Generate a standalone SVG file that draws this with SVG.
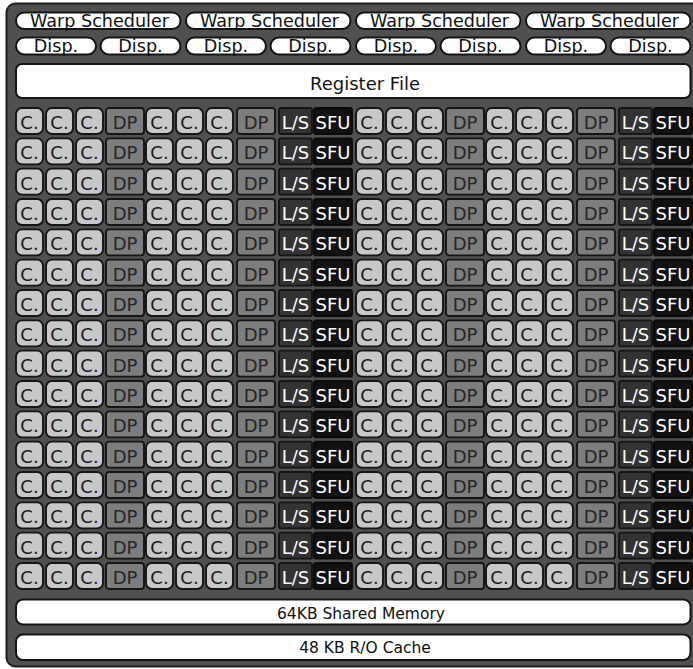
<svg xmlns="http://www.w3.org/2000/svg" width="693" height="669" viewBox="0 0 693 669">
<style>
text{font-family:"DejaVu Sans","Liberation Sans",sans-serif;text-anchor:middle}
.p{fill:#fff;stroke:#151515;stroke-width:2}
.pt{font-size:17.6px;fill:#111}
.c rect{fill:#c8c8c8;stroke:#151515;stroke-width:1.9}
.d rect{fill:#7d7d7d;stroke:#151515;stroke-width:1.9}
.l rect{fill:#333;stroke:#151515;stroke-width:1.9}
.s rect{fill:#111;stroke:#0a0a0a;stroke-width:1.9}
.c text,.d text,.l text,.s text{font-size:18px}
.c text{fill:#1a1a1a}
.d text{fill:#262626}
.l text,.s text{fill:#fff}
</style>
<g id="frame"><rect x="6.5" y="3.5" width="720" height="663" rx="9" fill="#505050" stroke="#1e1e1e" stroke-width="2"/></g>
<g id="warp1"><rect class="p" x="16" y="12.5" width="164.5" height="16.5" rx="8.2"/><text class="pt" x="99.5" y="26.5">Warp Scheduler</text></g>
<g id="warp2"><rect class="p" x="186" y="12.5" width="164.5" height="16.5" rx="8.2"/><text class="pt" x="269.5" y="26.5">Warp Scheduler</text></g>
<g id="warp3"><rect class="p" x="356" y="12.5" width="164.5" height="16.5" rx="8.2"/><text class="pt" x="439.5" y="26.5">Warp Scheduler</text></g>
<g id="warp4"><rect class="p" x="526" y="12.5" width="164.5" height="16.5" rx="8.2"/><text class="pt" x="609.5" y="26.5">Warp Scheduler</text></g>
<g id="disp1"><rect class="p" x="16" y="37.5" width="80" height="17" rx="8.5"/><text class="pt" x="56" y="52.3">Disp.</text></g>
<g id="disp2"><rect class="p" x="100.5" y="37.5" width="80" height="17" rx="8.5"/><text class="pt" x="140.5" y="52.3">Disp.</text></g>
<g id="disp3"><rect class="p" x="186" y="37.5" width="80" height="17" rx="8.5"/><text class="pt" x="226" y="52.3">Disp.</text></g>
<g id="disp4"><rect class="p" x="270.5" y="37.5" width="80" height="17" rx="8.5"/><text class="pt" x="310.5" y="52.3">Disp.</text></g>
<g id="disp5"><rect class="p" x="356" y="37.5" width="80" height="17" rx="8.5"/><text class="pt" x="396" y="52.3">Disp.</text></g>
<g id="disp6"><rect class="p" x="440.5" y="37.5" width="80" height="17" rx="8.5"/><text class="pt" x="480.5" y="52.3">Disp.</text></g>
<g id="disp7"><rect class="p" x="526" y="37.5" width="80" height="17" rx="8.5"/><text class="pt" x="566" y="52.3">Disp.</text></g>
<g id="disp8"><rect class="p" x="610.5" y="37.5" width="80" height="17" rx="8.5"/><text class="pt" x="650.5" y="52.3">Disp.</text></g>
<g id="regfile"><rect class="p" x="16" y="64" width="674.5" height="34" rx="6"/><text x="365" y="90" font-size="18" fill="#111">Register File</text></g>
<g id="row1" transform="translate(0 108)">
<g id="c1-1" class="c" transform="translate(16)"><rect width="27" height="26" rx="6"/><text x="13.5" y="21">C.</text></g>
<g id="c1-2" class="c" transform="translate(46)"><rect width="27" height="26" rx="6"/><text x="13.5" y="21">C.</text></g>
<g id="c1-3" class="c" transform="translate(76)"><rect width="27" height="26" rx="6"/><text x="13.5" y="21">C.</text></g>
<g id="c1-4" class="d" transform="translate(106)"><rect width="38" height="26" rx="3"/><text x="19" y="21">DP</text></g>
<g id="c1-5" class="c" transform="translate(146)"><rect width="27" height="26" rx="6"/><text x="13.5" y="21">C.</text></g>
<g id="c1-6" class="c" transform="translate(176)"><rect width="27" height="26" rx="6"/><text x="13.5" y="21">C.</text></g>
<g id="c1-7" class="c" transform="translate(206)"><rect width="27" height="26" rx="6"/><text x="13.5" y="21">C.</text></g>
<g id="c1-8" class="d" transform="translate(237)"><rect width="38" height="26" rx="3"/><text x="19" y="21">DP</text></g>
<g id="c1-9" class="l" transform="translate(279)"><rect width="33" height="26" rx="2"/><text x="16.5" y="21">L/S</text></g>
<g id="c1-10" class="s" transform="translate(314)"><rect width="38" height="26" rx="2"/><text x="19" y="21">SFU</text></g>
<g id="c1-11" class="c" transform="translate(356)"><rect width="27" height="26" rx="6"/><text x="13.5" y="21">C.</text></g>
<g id="c1-12" class="c" transform="translate(386)"><rect width="27" height="26" rx="6"/><text x="13.5" y="21">C.</text></g>
<g id="c1-13" class="c" transform="translate(416)"><rect width="27" height="26" rx="6"/><text x="13.5" y="21">C.</text></g>
<g id="c1-14" class="d" transform="translate(446)"><rect width="38" height="26" rx="3"/><text x="19" y="21">DP</text></g>
<g id="c1-15" class="c" transform="translate(486)"><rect width="27" height="26" rx="6"/><text x="13.5" y="21">C.</text></g>
<g id="c1-16" class="c" transform="translate(516)"><rect width="27" height="26" rx="6"/><text x="13.5" y="21">C.</text></g>
<g id="c1-17" class="c" transform="translate(546)"><rect width="27" height="26" rx="6"/><text x="13.5" y="21">C.</text></g>
<g id="c1-18" class="d" transform="translate(577)"><rect width="38" height="26" rx="3"/><text x="19" y="21">DP</text></g>
<g id="c1-19" class="l" transform="translate(619)"><rect width="33" height="26" rx="2"/><text x="16.5" y="21">L/S</text></g>
<g id="c1-20" class="s" transform="translate(654)"><rect width="38" height="26" rx="2"/><text x="19" y="21">SFU</text></g>
</g>
<g id="row2" transform="translate(0 138.33)">
<g id="c2-1" class="c" transform="translate(16)"><rect width="27" height="26" rx="6"/><text x="13.5" y="21">C.</text></g>
<g id="c2-2" class="c" transform="translate(46)"><rect width="27" height="26" rx="6"/><text x="13.5" y="21">C.</text></g>
<g id="c2-3" class="c" transform="translate(76)"><rect width="27" height="26" rx="6"/><text x="13.5" y="21">C.</text></g>
<g id="c2-4" class="d" transform="translate(106)"><rect width="38" height="26" rx="3"/><text x="19" y="21">DP</text></g>
<g id="c2-5" class="c" transform="translate(146)"><rect width="27" height="26" rx="6"/><text x="13.5" y="21">C.</text></g>
<g id="c2-6" class="c" transform="translate(176)"><rect width="27" height="26" rx="6"/><text x="13.5" y="21">C.</text></g>
<g id="c2-7" class="c" transform="translate(206)"><rect width="27" height="26" rx="6"/><text x="13.5" y="21">C.</text></g>
<g id="c2-8" class="d" transform="translate(237)"><rect width="38" height="26" rx="3"/><text x="19" y="21">DP</text></g>
<g id="c2-9" class="l" transform="translate(279)"><rect width="33" height="26" rx="2"/><text x="16.5" y="21">L/S</text></g>
<g id="c2-10" class="s" transform="translate(314)"><rect width="38" height="26" rx="2"/><text x="19" y="21">SFU</text></g>
<g id="c2-11" class="c" transform="translate(356)"><rect width="27" height="26" rx="6"/><text x="13.5" y="21">C.</text></g>
<g id="c2-12" class="c" transform="translate(386)"><rect width="27" height="26" rx="6"/><text x="13.5" y="21">C.</text></g>
<g id="c2-13" class="c" transform="translate(416)"><rect width="27" height="26" rx="6"/><text x="13.5" y="21">C.</text></g>
<g id="c2-14" class="d" transform="translate(446)"><rect width="38" height="26" rx="3"/><text x="19" y="21">DP</text></g>
<g id="c2-15" class="c" transform="translate(486)"><rect width="27" height="26" rx="6"/><text x="13.5" y="21">C.</text></g>
<g id="c2-16" class="c" transform="translate(516)"><rect width="27" height="26" rx="6"/><text x="13.5" y="21">C.</text></g>
<g id="c2-17" class="c" transform="translate(546)"><rect width="27" height="26" rx="6"/><text x="13.5" y="21">C.</text></g>
<g id="c2-18" class="d" transform="translate(577)"><rect width="38" height="26" rx="3"/><text x="19" y="21">DP</text></g>
<g id="c2-19" class="l" transform="translate(619)"><rect width="33" height="26" rx="2"/><text x="16.5" y="21">L/S</text></g>
<g id="c2-20" class="s" transform="translate(654)"><rect width="38" height="26" rx="2"/><text x="19" y="21">SFU</text></g>
</g>
<g id="row3" transform="translate(0 168.67)">
<g id="c3-1" class="c" transform="translate(16)"><rect width="27" height="26" rx="6"/><text x="13.5" y="21">C.</text></g>
<g id="c3-2" class="c" transform="translate(46)"><rect width="27" height="26" rx="6"/><text x="13.5" y="21">C.</text></g>
<g id="c3-3" class="c" transform="translate(76)"><rect width="27" height="26" rx="6"/><text x="13.5" y="21">C.</text></g>
<g id="c3-4" class="d" transform="translate(106)"><rect width="38" height="26" rx="3"/><text x="19" y="21">DP</text></g>
<g id="c3-5" class="c" transform="translate(146)"><rect width="27" height="26" rx="6"/><text x="13.5" y="21">C.</text></g>
<g id="c3-6" class="c" transform="translate(176)"><rect width="27" height="26" rx="6"/><text x="13.5" y="21">C.</text></g>
<g id="c3-7" class="c" transform="translate(206)"><rect width="27" height="26" rx="6"/><text x="13.5" y="21">C.</text></g>
<g id="c3-8" class="d" transform="translate(237)"><rect width="38" height="26" rx="3"/><text x="19" y="21">DP</text></g>
<g id="c3-9" class="l" transform="translate(279)"><rect width="33" height="26" rx="2"/><text x="16.5" y="21">L/S</text></g>
<g id="c3-10" class="s" transform="translate(314)"><rect width="38" height="26" rx="2"/><text x="19" y="21">SFU</text></g>
<g id="c3-11" class="c" transform="translate(356)"><rect width="27" height="26" rx="6"/><text x="13.5" y="21">C.</text></g>
<g id="c3-12" class="c" transform="translate(386)"><rect width="27" height="26" rx="6"/><text x="13.5" y="21">C.</text></g>
<g id="c3-13" class="c" transform="translate(416)"><rect width="27" height="26" rx="6"/><text x="13.5" y="21">C.</text></g>
<g id="c3-14" class="d" transform="translate(446)"><rect width="38" height="26" rx="3"/><text x="19" y="21">DP</text></g>
<g id="c3-15" class="c" transform="translate(486)"><rect width="27" height="26" rx="6"/><text x="13.5" y="21">C.</text></g>
<g id="c3-16" class="c" transform="translate(516)"><rect width="27" height="26" rx="6"/><text x="13.5" y="21">C.</text></g>
<g id="c3-17" class="c" transform="translate(546)"><rect width="27" height="26" rx="6"/><text x="13.5" y="21">C.</text></g>
<g id="c3-18" class="d" transform="translate(577)"><rect width="38" height="26" rx="3"/><text x="19" y="21">DP</text></g>
<g id="c3-19" class="l" transform="translate(619)"><rect width="33" height="26" rx="2"/><text x="16.5" y="21">L/S</text></g>
<g id="c3-20" class="s" transform="translate(654)"><rect width="38" height="26" rx="2"/><text x="19" y="21">SFU</text></g>
</g>
<g id="row4" transform="translate(0 199)">
<g id="c4-1" class="c" transform="translate(16)"><rect width="27" height="26" rx="6"/><text x="13.5" y="21">C.</text></g>
<g id="c4-2" class="c" transform="translate(46)"><rect width="27" height="26" rx="6"/><text x="13.5" y="21">C.</text></g>
<g id="c4-3" class="c" transform="translate(76)"><rect width="27" height="26" rx="6"/><text x="13.5" y="21">C.</text></g>
<g id="c4-4" class="d" transform="translate(106)"><rect width="38" height="26" rx="3"/><text x="19" y="21">DP</text></g>
<g id="c4-5" class="c" transform="translate(146)"><rect width="27" height="26" rx="6"/><text x="13.5" y="21">C.</text></g>
<g id="c4-6" class="c" transform="translate(176)"><rect width="27" height="26" rx="6"/><text x="13.5" y="21">C.</text></g>
<g id="c4-7" class="c" transform="translate(206)"><rect width="27" height="26" rx="6"/><text x="13.5" y="21">C.</text></g>
<g id="c4-8" class="d" transform="translate(237)"><rect width="38" height="26" rx="3"/><text x="19" y="21">DP</text></g>
<g id="c4-9" class="l" transform="translate(279)"><rect width="33" height="26" rx="2"/><text x="16.5" y="21">L/S</text></g>
<g id="c4-10" class="s" transform="translate(314)"><rect width="38" height="26" rx="2"/><text x="19" y="21">SFU</text></g>
<g id="c4-11" class="c" transform="translate(356)"><rect width="27" height="26" rx="6"/><text x="13.5" y="21">C.</text></g>
<g id="c4-12" class="c" transform="translate(386)"><rect width="27" height="26" rx="6"/><text x="13.5" y="21">C.</text></g>
<g id="c4-13" class="c" transform="translate(416)"><rect width="27" height="26" rx="6"/><text x="13.5" y="21">C.</text></g>
<g id="c4-14" class="d" transform="translate(446)"><rect width="38" height="26" rx="3"/><text x="19" y="21">DP</text></g>
<g id="c4-15" class="c" transform="translate(486)"><rect width="27" height="26" rx="6"/><text x="13.5" y="21">C.</text></g>
<g id="c4-16" class="c" transform="translate(516)"><rect width="27" height="26" rx="6"/><text x="13.5" y="21">C.</text></g>
<g id="c4-17" class="c" transform="translate(546)"><rect width="27" height="26" rx="6"/><text x="13.5" y="21">C.</text></g>
<g id="c4-18" class="d" transform="translate(577)"><rect width="38" height="26" rx="3"/><text x="19" y="21">DP</text></g>
<g id="c4-19" class="l" transform="translate(619)"><rect width="33" height="26" rx="2"/><text x="16.5" y="21">L/S</text></g>
<g id="c4-20" class="s" transform="translate(654)"><rect width="38" height="26" rx="2"/><text x="19" y="21">SFU</text></g>
</g>
<g id="row5" transform="translate(0 229.33)">
<g id="c5-1" class="c" transform="translate(16)"><rect width="27" height="26" rx="6"/><text x="13.5" y="21">C.</text></g>
<g id="c5-2" class="c" transform="translate(46)"><rect width="27" height="26" rx="6"/><text x="13.5" y="21">C.</text></g>
<g id="c5-3" class="c" transform="translate(76)"><rect width="27" height="26" rx="6"/><text x="13.5" y="21">C.</text></g>
<g id="c5-4" class="d" transform="translate(106)"><rect width="38" height="26" rx="3"/><text x="19" y="21">DP</text></g>
<g id="c5-5" class="c" transform="translate(146)"><rect width="27" height="26" rx="6"/><text x="13.5" y="21">C.</text></g>
<g id="c5-6" class="c" transform="translate(176)"><rect width="27" height="26" rx="6"/><text x="13.5" y="21">C.</text></g>
<g id="c5-7" class="c" transform="translate(206)"><rect width="27" height="26" rx="6"/><text x="13.5" y="21">C.</text></g>
<g id="c5-8" class="d" transform="translate(237)"><rect width="38" height="26" rx="3"/><text x="19" y="21">DP</text></g>
<g id="c5-9" class="l" transform="translate(279)"><rect width="33" height="26" rx="2"/><text x="16.5" y="21">L/S</text></g>
<g id="c5-10" class="s" transform="translate(314)"><rect width="38" height="26" rx="2"/><text x="19" y="21">SFU</text></g>
<g id="c5-11" class="c" transform="translate(356)"><rect width="27" height="26" rx="6"/><text x="13.5" y="21">C.</text></g>
<g id="c5-12" class="c" transform="translate(386)"><rect width="27" height="26" rx="6"/><text x="13.5" y="21">C.</text></g>
<g id="c5-13" class="c" transform="translate(416)"><rect width="27" height="26" rx="6"/><text x="13.5" y="21">C.</text></g>
<g id="c5-14" class="d" transform="translate(446)"><rect width="38" height="26" rx="3"/><text x="19" y="21">DP</text></g>
<g id="c5-15" class="c" transform="translate(486)"><rect width="27" height="26" rx="6"/><text x="13.5" y="21">C.</text></g>
<g id="c5-16" class="c" transform="translate(516)"><rect width="27" height="26" rx="6"/><text x="13.5" y="21">C.</text></g>
<g id="c5-17" class="c" transform="translate(546)"><rect width="27" height="26" rx="6"/><text x="13.5" y="21">C.</text></g>
<g id="c5-18" class="d" transform="translate(577)"><rect width="38" height="26" rx="3"/><text x="19" y="21">DP</text></g>
<g id="c5-19" class="l" transform="translate(619)"><rect width="33" height="26" rx="2"/><text x="16.5" y="21">L/S</text></g>
<g id="c5-20" class="s" transform="translate(654)"><rect width="38" height="26" rx="2"/><text x="19" y="21">SFU</text></g>
</g>
<g id="row6" transform="translate(0 259.67)">
<g id="c6-1" class="c" transform="translate(16)"><rect width="27" height="26" rx="6"/><text x="13.5" y="21">C.</text></g>
<g id="c6-2" class="c" transform="translate(46)"><rect width="27" height="26" rx="6"/><text x="13.5" y="21">C.</text></g>
<g id="c6-3" class="c" transform="translate(76)"><rect width="27" height="26" rx="6"/><text x="13.5" y="21">C.</text></g>
<g id="c6-4" class="d" transform="translate(106)"><rect width="38" height="26" rx="3"/><text x="19" y="21">DP</text></g>
<g id="c6-5" class="c" transform="translate(146)"><rect width="27" height="26" rx="6"/><text x="13.5" y="21">C.</text></g>
<g id="c6-6" class="c" transform="translate(176)"><rect width="27" height="26" rx="6"/><text x="13.5" y="21">C.</text></g>
<g id="c6-7" class="c" transform="translate(206)"><rect width="27" height="26" rx="6"/><text x="13.5" y="21">C.</text></g>
<g id="c6-8" class="d" transform="translate(237)"><rect width="38" height="26" rx="3"/><text x="19" y="21">DP</text></g>
<g id="c6-9" class="l" transform="translate(279)"><rect width="33" height="26" rx="2"/><text x="16.5" y="21">L/S</text></g>
<g id="c6-10" class="s" transform="translate(314)"><rect width="38" height="26" rx="2"/><text x="19" y="21">SFU</text></g>
<g id="c6-11" class="c" transform="translate(356)"><rect width="27" height="26" rx="6"/><text x="13.5" y="21">C.</text></g>
<g id="c6-12" class="c" transform="translate(386)"><rect width="27" height="26" rx="6"/><text x="13.5" y="21">C.</text></g>
<g id="c6-13" class="c" transform="translate(416)"><rect width="27" height="26" rx="6"/><text x="13.5" y="21">C.</text></g>
<g id="c6-14" class="d" transform="translate(446)"><rect width="38" height="26" rx="3"/><text x="19" y="21">DP</text></g>
<g id="c6-15" class="c" transform="translate(486)"><rect width="27" height="26" rx="6"/><text x="13.5" y="21">C.</text></g>
<g id="c6-16" class="c" transform="translate(516)"><rect width="27" height="26" rx="6"/><text x="13.5" y="21">C.</text></g>
<g id="c6-17" class="c" transform="translate(546)"><rect width="27" height="26" rx="6"/><text x="13.5" y="21">C.</text></g>
<g id="c6-18" class="d" transform="translate(577)"><rect width="38" height="26" rx="3"/><text x="19" y="21">DP</text></g>
<g id="c6-19" class="l" transform="translate(619)"><rect width="33" height="26" rx="2"/><text x="16.5" y="21">L/S</text></g>
<g id="c6-20" class="s" transform="translate(654)"><rect width="38" height="26" rx="2"/><text x="19" y="21">SFU</text></g>
</g>
<g id="row7" transform="translate(0 290)">
<g id="c7-1" class="c" transform="translate(16)"><rect width="27" height="26" rx="6"/><text x="13.5" y="21">C.</text></g>
<g id="c7-2" class="c" transform="translate(46)"><rect width="27" height="26" rx="6"/><text x="13.5" y="21">C.</text></g>
<g id="c7-3" class="c" transform="translate(76)"><rect width="27" height="26" rx="6"/><text x="13.5" y="21">C.</text></g>
<g id="c7-4" class="d" transform="translate(106)"><rect width="38" height="26" rx="3"/><text x="19" y="21">DP</text></g>
<g id="c7-5" class="c" transform="translate(146)"><rect width="27" height="26" rx="6"/><text x="13.5" y="21">C.</text></g>
<g id="c7-6" class="c" transform="translate(176)"><rect width="27" height="26" rx="6"/><text x="13.5" y="21">C.</text></g>
<g id="c7-7" class="c" transform="translate(206)"><rect width="27" height="26" rx="6"/><text x="13.5" y="21">C.</text></g>
<g id="c7-8" class="d" transform="translate(237)"><rect width="38" height="26" rx="3"/><text x="19" y="21">DP</text></g>
<g id="c7-9" class="l" transform="translate(279)"><rect width="33" height="26" rx="2"/><text x="16.5" y="21">L/S</text></g>
<g id="c7-10" class="s" transform="translate(314)"><rect width="38" height="26" rx="2"/><text x="19" y="21">SFU</text></g>
<g id="c7-11" class="c" transform="translate(356)"><rect width="27" height="26" rx="6"/><text x="13.5" y="21">C.</text></g>
<g id="c7-12" class="c" transform="translate(386)"><rect width="27" height="26" rx="6"/><text x="13.5" y="21">C.</text></g>
<g id="c7-13" class="c" transform="translate(416)"><rect width="27" height="26" rx="6"/><text x="13.5" y="21">C.</text></g>
<g id="c7-14" class="d" transform="translate(446)"><rect width="38" height="26" rx="3"/><text x="19" y="21">DP</text></g>
<g id="c7-15" class="c" transform="translate(486)"><rect width="27" height="26" rx="6"/><text x="13.5" y="21">C.</text></g>
<g id="c7-16" class="c" transform="translate(516)"><rect width="27" height="26" rx="6"/><text x="13.5" y="21">C.</text></g>
<g id="c7-17" class="c" transform="translate(546)"><rect width="27" height="26" rx="6"/><text x="13.5" y="21">C.</text></g>
<g id="c7-18" class="d" transform="translate(577)"><rect width="38" height="26" rx="3"/><text x="19" y="21">DP</text></g>
<g id="c7-19" class="l" transform="translate(619)"><rect width="33" height="26" rx="2"/><text x="16.5" y="21">L/S</text></g>
<g id="c7-20" class="s" transform="translate(654)"><rect width="38" height="26" rx="2"/><text x="19" y="21">SFU</text></g>
</g>
<g id="row8" transform="translate(0 320.33)">
<g id="c8-1" class="c" transform="translate(16)"><rect width="27" height="26" rx="6"/><text x="13.5" y="21">C.</text></g>
<g id="c8-2" class="c" transform="translate(46)"><rect width="27" height="26" rx="6"/><text x="13.5" y="21">C.</text></g>
<g id="c8-3" class="c" transform="translate(76)"><rect width="27" height="26" rx="6"/><text x="13.5" y="21">C.</text></g>
<g id="c8-4" class="d" transform="translate(106)"><rect width="38" height="26" rx="3"/><text x="19" y="21">DP</text></g>
<g id="c8-5" class="c" transform="translate(146)"><rect width="27" height="26" rx="6"/><text x="13.5" y="21">C.</text></g>
<g id="c8-6" class="c" transform="translate(176)"><rect width="27" height="26" rx="6"/><text x="13.5" y="21">C.</text></g>
<g id="c8-7" class="c" transform="translate(206)"><rect width="27" height="26" rx="6"/><text x="13.5" y="21">C.</text></g>
<g id="c8-8" class="d" transform="translate(237)"><rect width="38" height="26" rx="3"/><text x="19" y="21">DP</text></g>
<g id="c8-9" class="l" transform="translate(279)"><rect width="33" height="26" rx="2"/><text x="16.5" y="21">L/S</text></g>
<g id="c8-10" class="s" transform="translate(314)"><rect width="38" height="26" rx="2"/><text x="19" y="21">SFU</text></g>
<g id="c8-11" class="c" transform="translate(356)"><rect width="27" height="26" rx="6"/><text x="13.5" y="21">C.</text></g>
<g id="c8-12" class="c" transform="translate(386)"><rect width="27" height="26" rx="6"/><text x="13.5" y="21">C.</text></g>
<g id="c8-13" class="c" transform="translate(416)"><rect width="27" height="26" rx="6"/><text x="13.5" y="21">C.</text></g>
<g id="c8-14" class="d" transform="translate(446)"><rect width="38" height="26" rx="3"/><text x="19" y="21">DP</text></g>
<g id="c8-15" class="c" transform="translate(486)"><rect width="27" height="26" rx="6"/><text x="13.5" y="21">C.</text></g>
<g id="c8-16" class="c" transform="translate(516)"><rect width="27" height="26" rx="6"/><text x="13.5" y="21">C.</text></g>
<g id="c8-17" class="c" transform="translate(546)"><rect width="27" height="26" rx="6"/><text x="13.5" y="21">C.</text></g>
<g id="c8-18" class="d" transform="translate(577)"><rect width="38" height="26" rx="3"/><text x="19" y="21">DP</text></g>
<g id="c8-19" class="l" transform="translate(619)"><rect width="33" height="26" rx="2"/><text x="16.5" y="21">L/S</text></g>
<g id="c8-20" class="s" transform="translate(654)"><rect width="38" height="26" rx="2"/><text x="19" y="21">SFU</text></g>
</g>
<g id="row9" transform="translate(0 350.67)">
<g id="c9-1" class="c" transform="translate(16)"><rect width="27" height="26" rx="6"/><text x="13.5" y="21">C.</text></g>
<g id="c9-2" class="c" transform="translate(46)"><rect width="27" height="26" rx="6"/><text x="13.5" y="21">C.</text></g>
<g id="c9-3" class="c" transform="translate(76)"><rect width="27" height="26" rx="6"/><text x="13.5" y="21">C.</text></g>
<g id="c9-4" class="d" transform="translate(106)"><rect width="38" height="26" rx="3"/><text x="19" y="21">DP</text></g>
<g id="c9-5" class="c" transform="translate(146)"><rect width="27" height="26" rx="6"/><text x="13.5" y="21">C.</text></g>
<g id="c9-6" class="c" transform="translate(176)"><rect width="27" height="26" rx="6"/><text x="13.5" y="21">C.</text></g>
<g id="c9-7" class="c" transform="translate(206)"><rect width="27" height="26" rx="6"/><text x="13.5" y="21">C.</text></g>
<g id="c9-8" class="d" transform="translate(237)"><rect width="38" height="26" rx="3"/><text x="19" y="21">DP</text></g>
<g id="c9-9" class="l" transform="translate(279)"><rect width="33" height="26" rx="2"/><text x="16.5" y="21">L/S</text></g>
<g id="c9-10" class="s" transform="translate(314)"><rect width="38" height="26" rx="2"/><text x="19" y="21">SFU</text></g>
<g id="c9-11" class="c" transform="translate(356)"><rect width="27" height="26" rx="6"/><text x="13.5" y="21">C.</text></g>
<g id="c9-12" class="c" transform="translate(386)"><rect width="27" height="26" rx="6"/><text x="13.5" y="21">C.</text></g>
<g id="c9-13" class="c" transform="translate(416)"><rect width="27" height="26" rx="6"/><text x="13.5" y="21">C.</text></g>
<g id="c9-14" class="d" transform="translate(446)"><rect width="38" height="26" rx="3"/><text x="19" y="21">DP</text></g>
<g id="c9-15" class="c" transform="translate(486)"><rect width="27" height="26" rx="6"/><text x="13.5" y="21">C.</text></g>
<g id="c9-16" class="c" transform="translate(516)"><rect width="27" height="26" rx="6"/><text x="13.5" y="21">C.</text></g>
<g id="c9-17" class="c" transform="translate(546)"><rect width="27" height="26" rx="6"/><text x="13.5" y="21">C.</text></g>
<g id="c9-18" class="d" transform="translate(577)"><rect width="38" height="26" rx="3"/><text x="19" y="21">DP</text></g>
<g id="c9-19" class="l" transform="translate(619)"><rect width="33" height="26" rx="2"/><text x="16.5" y="21">L/S</text></g>
<g id="c9-20" class="s" transform="translate(654)"><rect width="38" height="26" rx="2"/><text x="19" y="21">SFU</text></g>
</g>
<g id="row10" transform="translate(0 381)">
<g id="c10-1" class="c" transform="translate(16)"><rect width="27" height="26" rx="6"/><text x="13.5" y="21">C.</text></g>
<g id="c10-2" class="c" transform="translate(46)"><rect width="27" height="26" rx="6"/><text x="13.5" y="21">C.</text></g>
<g id="c10-3" class="c" transform="translate(76)"><rect width="27" height="26" rx="6"/><text x="13.5" y="21">C.</text></g>
<g id="c10-4" class="d" transform="translate(106)"><rect width="38" height="26" rx="3"/><text x="19" y="21">DP</text></g>
<g id="c10-5" class="c" transform="translate(146)"><rect width="27" height="26" rx="6"/><text x="13.5" y="21">C.</text></g>
<g id="c10-6" class="c" transform="translate(176)"><rect width="27" height="26" rx="6"/><text x="13.5" y="21">C.</text></g>
<g id="c10-7" class="c" transform="translate(206)"><rect width="27" height="26" rx="6"/><text x="13.5" y="21">C.</text></g>
<g id="c10-8" class="d" transform="translate(237)"><rect width="38" height="26" rx="3"/><text x="19" y="21">DP</text></g>
<g id="c10-9" class="l" transform="translate(279)"><rect width="33" height="26" rx="2"/><text x="16.5" y="21">L/S</text></g>
<g id="c10-10" class="s" transform="translate(314)"><rect width="38" height="26" rx="2"/><text x="19" y="21">SFU</text></g>
<g id="c10-11" class="c" transform="translate(356)"><rect width="27" height="26" rx="6"/><text x="13.5" y="21">C.</text></g>
<g id="c10-12" class="c" transform="translate(386)"><rect width="27" height="26" rx="6"/><text x="13.5" y="21">C.</text></g>
<g id="c10-13" class="c" transform="translate(416)"><rect width="27" height="26" rx="6"/><text x="13.5" y="21">C.</text></g>
<g id="c10-14" class="d" transform="translate(446)"><rect width="38" height="26" rx="3"/><text x="19" y="21">DP</text></g>
<g id="c10-15" class="c" transform="translate(486)"><rect width="27" height="26" rx="6"/><text x="13.5" y="21">C.</text></g>
<g id="c10-16" class="c" transform="translate(516)"><rect width="27" height="26" rx="6"/><text x="13.5" y="21">C.</text></g>
<g id="c10-17" class="c" transform="translate(546)"><rect width="27" height="26" rx="6"/><text x="13.5" y="21">C.</text></g>
<g id="c10-18" class="d" transform="translate(577)"><rect width="38" height="26" rx="3"/><text x="19" y="21">DP</text></g>
<g id="c10-19" class="l" transform="translate(619)"><rect width="33" height="26" rx="2"/><text x="16.5" y="21">L/S</text></g>
<g id="c10-20" class="s" transform="translate(654)"><rect width="38" height="26" rx="2"/><text x="19" y="21">SFU</text></g>
</g>
<g id="row11" transform="translate(0 411.33)">
<g id="c11-1" class="c" transform="translate(16)"><rect width="27" height="26" rx="6"/><text x="13.5" y="21">C.</text></g>
<g id="c11-2" class="c" transform="translate(46)"><rect width="27" height="26" rx="6"/><text x="13.5" y="21">C.</text></g>
<g id="c11-3" class="c" transform="translate(76)"><rect width="27" height="26" rx="6"/><text x="13.5" y="21">C.</text></g>
<g id="c11-4" class="d" transform="translate(106)"><rect width="38" height="26" rx="3"/><text x="19" y="21">DP</text></g>
<g id="c11-5" class="c" transform="translate(146)"><rect width="27" height="26" rx="6"/><text x="13.5" y="21">C.</text></g>
<g id="c11-6" class="c" transform="translate(176)"><rect width="27" height="26" rx="6"/><text x="13.5" y="21">C.</text></g>
<g id="c11-7" class="c" transform="translate(206)"><rect width="27" height="26" rx="6"/><text x="13.5" y="21">C.</text></g>
<g id="c11-8" class="d" transform="translate(237)"><rect width="38" height="26" rx="3"/><text x="19" y="21">DP</text></g>
<g id="c11-9" class="l" transform="translate(279)"><rect width="33" height="26" rx="2"/><text x="16.5" y="21">L/S</text></g>
<g id="c11-10" class="s" transform="translate(314)"><rect width="38" height="26" rx="2"/><text x="19" y="21">SFU</text></g>
<g id="c11-11" class="c" transform="translate(356)"><rect width="27" height="26" rx="6"/><text x="13.5" y="21">C.</text></g>
<g id="c11-12" class="c" transform="translate(386)"><rect width="27" height="26" rx="6"/><text x="13.5" y="21">C.</text></g>
<g id="c11-13" class="c" transform="translate(416)"><rect width="27" height="26" rx="6"/><text x="13.5" y="21">C.</text></g>
<g id="c11-14" class="d" transform="translate(446)"><rect width="38" height="26" rx="3"/><text x="19" y="21">DP</text></g>
<g id="c11-15" class="c" transform="translate(486)"><rect width="27" height="26" rx="6"/><text x="13.5" y="21">C.</text></g>
<g id="c11-16" class="c" transform="translate(516)"><rect width="27" height="26" rx="6"/><text x="13.5" y="21">C.</text></g>
<g id="c11-17" class="c" transform="translate(546)"><rect width="27" height="26" rx="6"/><text x="13.5" y="21">C.</text></g>
<g id="c11-18" class="d" transform="translate(577)"><rect width="38" height="26" rx="3"/><text x="19" y="21">DP</text></g>
<g id="c11-19" class="l" transform="translate(619)"><rect width="33" height="26" rx="2"/><text x="16.5" y="21">L/S</text></g>
<g id="c11-20" class="s" transform="translate(654)"><rect width="38" height="26" rx="2"/><text x="19" y="21">SFU</text></g>
</g>
<g id="row12" transform="translate(0 441.67)">
<g id="c12-1" class="c" transform="translate(16)"><rect width="27" height="26" rx="6"/><text x="13.5" y="21">C.</text></g>
<g id="c12-2" class="c" transform="translate(46)"><rect width="27" height="26" rx="6"/><text x="13.5" y="21">C.</text></g>
<g id="c12-3" class="c" transform="translate(76)"><rect width="27" height="26" rx="6"/><text x="13.5" y="21">C.</text></g>
<g id="c12-4" class="d" transform="translate(106)"><rect width="38" height="26" rx="3"/><text x="19" y="21">DP</text></g>
<g id="c12-5" class="c" transform="translate(146)"><rect width="27" height="26" rx="6"/><text x="13.5" y="21">C.</text></g>
<g id="c12-6" class="c" transform="translate(176)"><rect width="27" height="26" rx="6"/><text x="13.5" y="21">C.</text></g>
<g id="c12-7" class="c" transform="translate(206)"><rect width="27" height="26" rx="6"/><text x="13.5" y="21">C.</text></g>
<g id="c12-8" class="d" transform="translate(237)"><rect width="38" height="26" rx="3"/><text x="19" y="21">DP</text></g>
<g id="c12-9" class="l" transform="translate(279)"><rect width="33" height="26" rx="2"/><text x="16.5" y="21">L/S</text></g>
<g id="c12-10" class="s" transform="translate(314)"><rect width="38" height="26" rx="2"/><text x="19" y="21">SFU</text></g>
<g id="c12-11" class="c" transform="translate(356)"><rect width="27" height="26" rx="6"/><text x="13.5" y="21">C.</text></g>
<g id="c12-12" class="c" transform="translate(386)"><rect width="27" height="26" rx="6"/><text x="13.5" y="21">C.</text></g>
<g id="c12-13" class="c" transform="translate(416)"><rect width="27" height="26" rx="6"/><text x="13.5" y="21">C.</text></g>
<g id="c12-14" class="d" transform="translate(446)"><rect width="38" height="26" rx="3"/><text x="19" y="21">DP</text></g>
<g id="c12-15" class="c" transform="translate(486)"><rect width="27" height="26" rx="6"/><text x="13.5" y="21">C.</text></g>
<g id="c12-16" class="c" transform="translate(516)"><rect width="27" height="26" rx="6"/><text x="13.5" y="21">C.</text></g>
<g id="c12-17" class="c" transform="translate(546)"><rect width="27" height="26" rx="6"/><text x="13.5" y="21">C.</text></g>
<g id="c12-18" class="d" transform="translate(577)"><rect width="38" height="26" rx="3"/><text x="19" y="21">DP</text></g>
<g id="c12-19" class="l" transform="translate(619)"><rect width="33" height="26" rx="2"/><text x="16.5" y="21">L/S</text></g>
<g id="c12-20" class="s" transform="translate(654)"><rect width="38" height="26" rx="2"/><text x="19" y="21">SFU</text></g>
</g>
<g id="row13" transform="translate(0 472)">
<g id="c13-1" class="c" transform="translate(16)"><rect width="27" height="26" rx="6"/><text x="13.5" y="21">C.</text></g>
<g id="c13-2" class="c" transform="translate(46)"><rect width="27" height="26" rx="6"/><text x="13.5" y="21">C.</text></g>
<g id="c13-3" class="c" transform="translate(76)"><rect width="27" height="26" rx="6"/><text x="13.5" y="21">C.</text></g>
<g id="c13-4" class="d" transform="translate(106)"><rect width="38" height="26" rx="3"/><text x="19" y="21">DP</text></g>
<g id="c13-5" class="c" transform="translate(146)"><rect width="27" height="26" rx="6"/><text x="13.5" y="21">C.</text></g>
<g id="c13-6" class="c" transform="translate(176)"><rect width="27" height="26" rx="6"/><text x="13.5" y="21">C.</text></g>
<g id="c13-7" class="c" transform="translate(206)"><rect width="27" height="26" rx="6"/><text x="13.5" y="21">C.</text></g>
<g id="c13-8" class="d" transform="translate(237)"><rect width="38" height="26" rx="3"/><text x="19" y="21">DP</text></g>
<g id="c13-9" class="l" transform="translate(279)"><rect width="33" height="26" rx="2"/><text x="16.5" y="21">L/S</text></g>
<g id="c13-10" class="s" transform="translate(314)"><rect width="38" height="26" rx="2"/><text x="19" y="21">SFU</text></g>
<g id="c13-11" class="c" transform="translate(356)"><rect width="27" height="26" rx="6"/><text x="13.5" y="21">C.</text></g>
<g id="c13-12" class="c" transform="translate(386)"><rect width="27" height="26" rx="6"/><text x="13.5" y="21">C.</text></g>
<g id="c13-13" class="c" transform="translate(416)"><rect width="27" height="26" rx="6"/><text x="13.5" y="21">C.</text></g>
<g id="c13-14" class="d" transform="translate(446)"><rect width="38" height="26" rx="3"/><text x="19" y="21">DP</text></g>
<g id="c13-15" class="c" transform="translate(486)"><rect width="27" height="26" rx="6"/><text x="13.5" y="21">C.</text></g>
<g id="c13-16" class="c" transform="translate(516)"><rect width="27" height="26" rx="6"/><text x="13.5" y="21">C.</text></g>
<g id="c13-17" class="c" transform="translate(546)"><rect width="27" height="26" rx="6"/><text x="13.5" y="21">C.</text></g>
<g id="c13-18" class="d" transform="translate(577)"><rect width="38" height="26" rx="3"/><text x="19" y="21">DP</text></g>
<g id="c13-19" class="l" transform="translate(619)"><rect width="33" height="26" rx="2"/><text x="16.5" y="21">L/S</text></g>
<g id="c13-20" class="s" transform="translate(654)"><rect width="38" height="26" rx="2"/><text x="19" y="21">SFU</text></g>
</g>
<g id="row14" transform="translate(0 502.33)">
<g id="c14-1" class="c" transform="translate(16)"><rect width="27" height="26" rx="6"/><text x="13.5" y="21">C.</text></g>
<g id="c14-2" class="c" transform="translate(46)"><rect width="27" height="26" rx="6"/><text x="13.5" y="21">C.</text></g>
<g id="c14-3" class="c" transform="translate(76)"><rect width="27" height="26" rx="6"/><text x="13.5" y="21">C.</text></g>
<g id="c14-4" class="d" transform="translate(106)"><rect width="38" height="26" rx="3"/><text x="19" y="21">DP</text></g>
<g id="c14-5" class="c" transform="translate(146)"><rect width="27" height="26" rx="6"/><text x="13.5" y="21">C.</text></g>
<g id="c14-6" class="c" transform="translate(176)"><rect width="27" height="26" rx="6"/><text x="13.5" y="21">C.</text></g>
<g id="c14-7" class="c" transform="translate(206)"><rect width="27" height="26" rx="6"/><text x="13.5" y="21">C.</text></g>
<g id="c14-8" class="d" transform="translate(237)"><rect width="38" height="26" rx="3"/><text x="19" y="21">DP</text></g>
<g id="c14-9" class="l" transform="translate(279)"><rect width="33" height="26" rx="2"/><text x="16.5" y="21">L/S</text></g>
<g id="c14-10" class="s" transform="translate(314)"><rect width="38" height="26" rx="2"/><text x="19" y="21">SFU</text></g>
<g id="c14-11" class="c" transform="translate(356)"><rect width="27" height="26" rx="6"/><text x="13.5" y="21">C.</text></g>
<g id="c14-12" class="c" transform="translate(386)"><rect width="27" height="26" rx="6"/><text x="13.5" y="21">C.</text></g>
<g id="c14-13" class="c" transform="translate(416)"><rect width="27" height="26" rx="6"/><text x="13.5" y="21">C.</text></g>
<g id="c14-14" class="d" transform="translate(446)"><rect width="38" height="26" rx="3"/><text x="19" y="21">DP</text></g>
<g id="c14-15" class="c" transform="translate(486)"><rect width="27" height="26" rx="6"/><text x="13.5" y="21">C.</text></g>
<g id="c14-16" class="c" transform="translate(516)"><rect width="27" height="26" rx="6"/><text x="13.5" y="21">C.</text></g>
<g id="c14-17" class="c" transform="translate(546)"><rect width="27" height="26" rx="6"/><text x="13.5" y="21">C.</text></g>
<g id="c14-18" class="d" transform="translate(577)"><rect width="38" height="26" rx="3"/><text x="19" y="21">DP</text></g>
<g id="c14-19" class="l" transform="translate(619)"><rect width="33" height="26" rx="2"/><text x="16.5" y="21">L/S</text></g>
<g id="c14-20" class="s" transform="translate(654)"><rect width="38" height="26" rx="2"/><text x="19" y="21">SFU</text></g>
</g>
<g id="row15" transform="translate(0 532.67)">
<g id="c15-1" class="c" transform="translate(16)"><rect width="27" height="26" rx="6"/><text x="13.5" y="21">C.</text></g>
<g id="c15-2" class="c" transform="translate(46)"><rect width="27" height="26" rx="6"/><text x="13.5" y="21">C.</text></g>
<g id="c15-3" class="c" transform="translate(76)"><rect width="27" height="26" rx="6"/><text x="13.5" y="21">C.</text></g>
<g id="c15-4" class="d" transform="translate(106)"><rect width="38" height="26" rx="3"/><text x="19" y="21">DP</text></g>
<g id="c15-5" class="c" transform="translate(146)"><rect width="27" height="26" rx="6"/><text x="13.5" y="21">C.</text></g>
<g id="c15-6" class="c" transform="translate(176)"><rect width="27" height="26" rx="6"/><text x="13.5" y="21">C.</text></g>
<g id="c15-7" class="c" transform="translate(206)"><rect width="27" height="26" rx="6"/><text x="13.5" y="21">C.</text></g>
<g id="c15-8" class="d" transform="translate(237)"><rect width="38" height="26" rx="3"/><text x="19" y="21">DP</text></g>
<g id="c15-9" class="l" transform="translate(279)"><rect width="33" height="26" rx="2"/><text x="16.5" y="21">L/S</text></g>
<g id="c15-10" class="s" transform="translate(314)"><rect width="38" height="26" rx="2"/><text x="19" y="21">SFU</text></g>
<g id="c15-11" class="c" transform="translate(356)"><rect width="27" height="26" rx="6"/><text x="13.5" y="21">C.</text></g>
<g id="c15-12" class="c" transform="translate(386)"><rect width="27" height="26" rx="6"/><text x="13.5" y="21">C.</text></g>
<g id="c15-13" class="c" transform="translate(416)"><rect width="27" height="26" rx="6"/><text x="13.5" y="21">C.</text></g>
<g id="c15-14" class="d" transform="translate(446)"><rect width="38" height="26" rx="3"/><text x="19" y="21">DP</text></g>
<g id="c15-15" class="c" transform="translate(486)"><rect width="27" height="26" rx="6"/><text x="13.5" y="21">C.</text></g>
<g id="c15-16" class="c" transform="translate(516)"><rect width="27" height="26" rx="6"/><text x="13.5" y="21">C.</text></g>
<g id="c15-17" class="c" transform="translate(546)"><rect width="27" height="26" rx="6"/><text x="13.5" y="21">C.</text></g>
<g id="c15-18" class="d" transform="translate(577)"><rect width="38" height="26" rx="3"/><text x="19" y="21">DP</text></g>
<g id="c15-19" class="l" transform="translate(619)"><rect width="33" height="26" rx="2"/><text x="16.5" y="21">L/S</text></g>
<g id="c15-20" class="s" transform="translate(654)"><rect width="38" height="26" rx="2"/><text x="19" y="21">SFU</text></g>
</g>
<g id="row16" transform="translate(0 563)">
<g id="c16-1" class="c" transform="translate(16)"><rect width="27" height="26" rx="6"/><text x="13.5" y="21">C.</text></g>
<g id="c16-2" class="c" transform="translate(46)"><rect width="27" height="26" rx="6"/><text x="13.5" y="21">C.</text></g>
<g id="c16-3" class="c" transform="translate(76)"><rect width="27" height="26" rx="6"/><text x="13.5" y="21">C.</text></g>
<g id="c16-4" class="d" transform="translate(106)"><rect width="38" height="26" rx="3"/><text x="19" y="21">DP</text></g>
<g id="c16-5" class="c" transform="translate(146)"><rect width="27" height="26" rx="6"/><text x="13.5" y="21">C.</text></g>
<g id="c16-6" class="c" transform="translate(176)"><rect width="27" height="26" rx="6"/><text x="13.5" y="21">C.</text></g>
<g id="c16-7" class="c" transform="translate(206)"><rect width="27" height="26" rx="6"/><text x="13.5" y="21">C.</text></g>
<g id="c16-8" class="d" transform="translate(237)"><rect width="38" height="26" rx="3"/><text x="19" y="21">DP</text></g>
<g id="c16-9" class="l" transform="translate(279)"><rect width="33" height="26" rx="2"/><text x="16.5" y="21">L/S</text></g>
<g id="c16-10" class="s" transform="translate(314)"><rect width="38" height="26" rx="2"/><text x="19" y="21">SFU</text></g>
<g id="c16-11" class="c" transform="translate(356)"><rect width="27" height="26" rx="6"/><text x="13.5" y="21">C.</text></g>
<g id="c16-12" class="c" transform="translate(386)"><rect width="27" height="26" rx="6"/><text x="13.5" y="21">C.</text></g>
<g id="c16-13" class="c" transform="translate(416)"><rect width="27" height="26" rx="6"/><text x="13.5" y="21">C.</text></g>
<g id="c16-14" class="d" transform="translate(446)"><rect width="38" height="26" rx="3"/><text x="19" y="21">DP</text></g>
<g id="c16-15" class="c" transform="translate(486)"><rect width="27" height="26" rx="6"/><text x="13.5" y="21">C.</text></g>
<g id="c16-16" class="c" transform="translate(516)"><rect width="27" height="26" rx="6"/><text x="13.5" y="21">C.</text></g>
<g id="c16-17" class="c" transform="translate(546)"><rect width="27" height="26" rx="6"/><text x="13.5" y="21">C.</text></g>
<g id="c16-18" class="d" transform="translate(577)"><rect width="38" height="26" rx="3"/><text x="19" y="21">DP</text></g>
<g id="c16-19" class="l" transform="translate(619)"><rect width="33" height="26" rx="2"/><text x="16.5" y="21">L/S</text></g>
<g id="c16-20" class="s" transform="translate(654)"><rect width="38" height="26" rx="2"/><text x="19" y="21">SFU</text></g>
</g>
<g id="shared"><rect class="p" x="16" y="599.5" width="674.5" height="25" rx="7"/><text x="361" y="618.5" font-size="15.5" fill="#111">64KB Shared Memory</text></g>
<g id="rocache"><rect class="p" x="16" y="634.5" width="674.5" height="25.5" rx="7"/><text x="365" y="652.7" font-size="15.5" fill="#111">48 KB R/O Cache</text></g>
<g id="connectors"></g>
</svg>
